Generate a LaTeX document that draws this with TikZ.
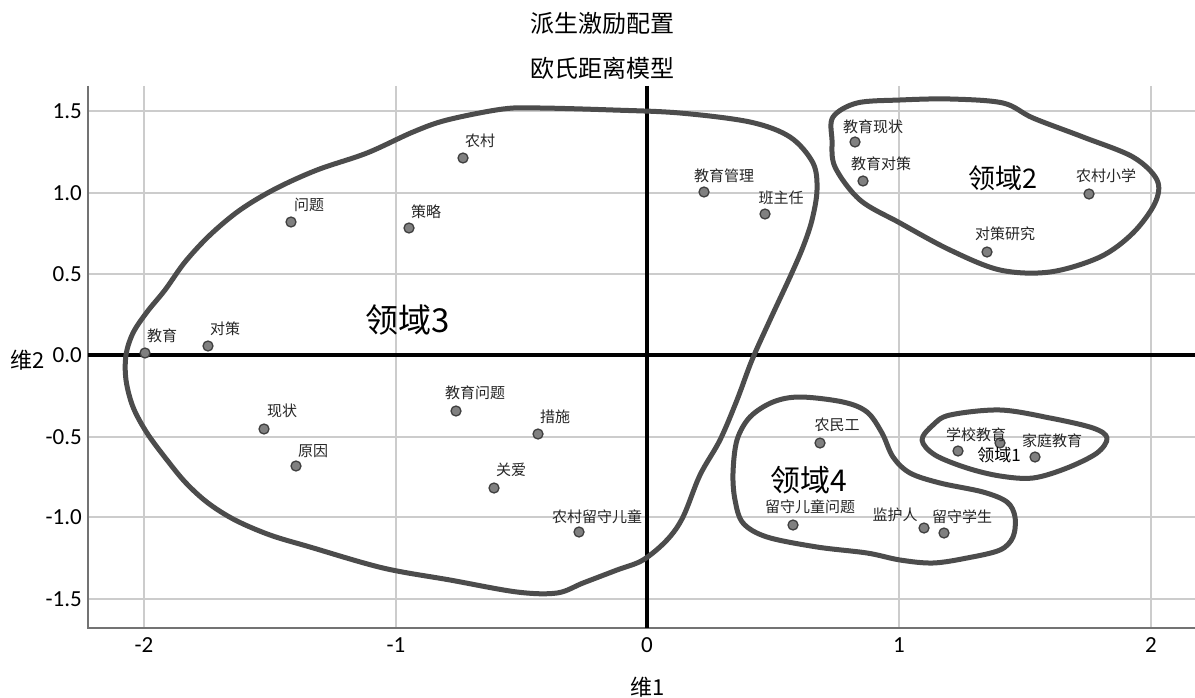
\documentclass[tikz,border=0pt]{standalone}
\usepackage{fontspec}
\setmainfont{Noto Sans CJK SC}
\newfontfamily\numfont{Carlito}
\begin{document}
\begin{tikzpicture}[x=1pt,y=-1pt,
  grid/.style={draw=black!20, line width=1.3},
  frame/.style={draw=black!55, line width=1.6},
  zero/.style={draw=black, line width=3.5},
  loopline/.style={draw=black!70, line width=5, line join=round},
  pt/.style={circle, draw=black!75, fill=black!50, line width=1.3, minimum size=10pt, inner sep=0pt},
  lbl/.style={font=\fontsize{15}{15}\selectfont, inner sep=0pt, text=black!85},
  tick/.style={font=\numfont\fontsize{23}{23}\selectfont, inner sep=0pt},
  axlbl/.style={font=\fontsize{22}{22}\selectfont, inner sep=0pt},
  ttl/.style={font=\fontsize{24}{24}\selectfont, inner sep=0pt},
  dom/.style={inner sep=0pt, text=black}]
\useasboundingbox[fill=white] (0,0) rectangle (1195,698);
% grid
\foreach \yy in {111,193,274,437,517,599} \draw[grid] (88,\yy) -- (1195,\yy);
\foreach \xx in {144,396,899,1151} \draw[grid] (\xx,86) -- (\xx,628);
% frame
\draw[frame] (88,86) -- (88,628) -- (1195,628);
% zero axes
\draw[zero] (647,86) -- (647,628);
\draw[zero] (88,355) -- (1195,355);
% ticks
\foreach \v/\yy in {1.5/111,1.0/193,0.5/274,0.0/355,-0.5/437,-1.0/517,-1.5/599}
  \node[tick, anchor=east] at (82,\yy) {\v};
\foreach \v/\xx in {-2/144,-1/396,0/647,1/899,2/1151}
  \node[tick] at (\xx,645) {\v};
% titles
\node[ttl] (t1) at (602,23) {派生激励配置};
\node[ttl] (t2) at (602,68) {欧氏距离模型};
\node[axlbl] (ax2) at (28,360) {维2};
\node[axlbl] (ax1) at (648,687) {维1};
% loops
\draw[loopline] plot[smooth cycle, tension=0.55] coordinates {
 (503,109) (540,108) (613,110) (680,113) (750,122) (790,137) (813,163) (817,190)
 (812,220) (803,247) (790,277) (770,320) (752,360) (737,400) (720,440) (700,475)
 (683,517) (667,540) (643,560) (617,570) (583,583) (557,593) (517,592) (450,580)
 (383,568) (310,547) (270,535) (235,520) (208,503) (186,483) (167,460) (147,433) (133,407)
 (126,380) (126,355) (133,333) (147,312) (165,290) (185,262) (210,235)
 (240,210) (275,189) (317,170) (367,153) (413,132) (447,120)};
\draw[loopline] plot[smooth cycle, tension=0.55] coordinates {
 (833,117) (857,103) (900,100) (950,99) (1003,103) (1033,118) (1083,137) (1133,157)
 (1157,180) (1155,203) (1133,233) (1100,257) (1050,272) (1000,270) (950,250)
 (900,223) (860,200) (835,167) (832,140)};
\draw[loopline] plot[smooth cycle, tension=0.55] coordinates {
 (800,397) (843,402) (867,412) (882,433) (893,457) (910,473) (940,483) (983,492)
 (1007,502) (1015,517) (1013,537) (1000,550) (967,558) (933,563) (900,560)
 (867,553) (817,547) (767,537) (743,523) (735,500) (733,473) (737,440) (750,417) (773,402)};
\draw[loopline] plot[smooth cycle, tension=0.55] coordinates {
 (922,440) (933,425) (950,415) (1000,410) (1050,418) (1093,428) (1107,438)
 (1097,453) (1067,468) (1033,478) (1000,476) (967,468) (935,455)};
% points
\node[pt] (p1) at (463,158) {};
\node[pt] (p2) at (291,222) {};
\node[pt] (p3) at (409,228) {};
\node[pt] (p4) at (145,353) {};
\node[pt] (p5) at (208,346) {};
\node[pt] (p6) at (264,429) {};
\node[pt] (p7) at (296,466) {};
\node[pt] (p8) at (456,411) {};
\node[pt] (p9) at (538,434) {};
\node[pt] (p10) at (494,488) {};
\node[pt] (p11) at (579,532) {};
\node[pt] (p12) at (704,192) {};
\node[pt] (p13) at (765,214) {};
\node[pt] (p14) at (855,142) {};
\node[pt] (p15) at (863,181) {};
\node[pt] (p16) at (1089,194) {};
\node[pt] (p17) at (987,252) {};
\node[pt] (p18) at (820,443) {};
\node[pt] (p19) at (958,451) {};
\node[pt] (p20) at (1000,443) {};
\node[pt] (p21) at (1035,457) {};
\node[pt] (p22) at (793,525) {};
\node[pt] (p23) at (924,528) {};
\node[pt] (p24) at (944,533) {};
% labels
\node[lbl] (l1) at (480,141) {农村};
\node[lbl] (l2) at (309,205) {问题};
\node[lbl] (l3) at (426,212) {策略};
\node[lbl] (l4) at (162,336) {教育};
\node[lbl] (l5) at (225,329) {对策};
\node[lbl] (l6) at (282,411) {现状};
\node[lbl] (l7) at (313,451) {原因};
\node[lbl] (l8) at (475,393) {教育问题};
\node[lbl] (l9) at (555,417) {措施};
\node[lbl] (l10) at (511,470) {关爱};
\node[lbl] (l11) at (597,517) {农村留守儿童};
\node[lbl] (l12) at (724,176) {教育管理};
\node[lbl] (l13) at (781,198) {班主任};
\node[lbl] (l14) at (873,127) {教育现状};
\node[lbl] (l15) at (881,164) {教育对策};
\node[lbl] (l16) at (1106,176) {农村小学};
\node[lbl] (l17) at (1005,234) {对策研究};
\node[lbl] (l18) at (837,425) {农民工};
\node[lbl] (l19) at (976,435) {学校教育};
\node[lbl] (l21) at (1052,441) {家庭教育};
\node[lbl] (l22) at (810,507) {留守儿童问题};
\node[lbl] (l23) at (895,515) {监护人};
\node[lbl] (l24) at (962,517) {留守学生};
% domain labels
\node[dom, font=\fontsize{33}{33}\selectfont] (d3) at (408,320) {领域3};
\node[dom, font=\fontsize{27}{27}\selectfont] (d2) at (1003,178) {领域2};
\node[dom, font=\fontsize{30}{30}\selectfont] (d4) at (809,480) {领域4};
\node[dom, font=\fontsize{17}{17}\selectfont] (d1) at (999,455) {领域1};
\end{tikzpicture}
\end{document}
